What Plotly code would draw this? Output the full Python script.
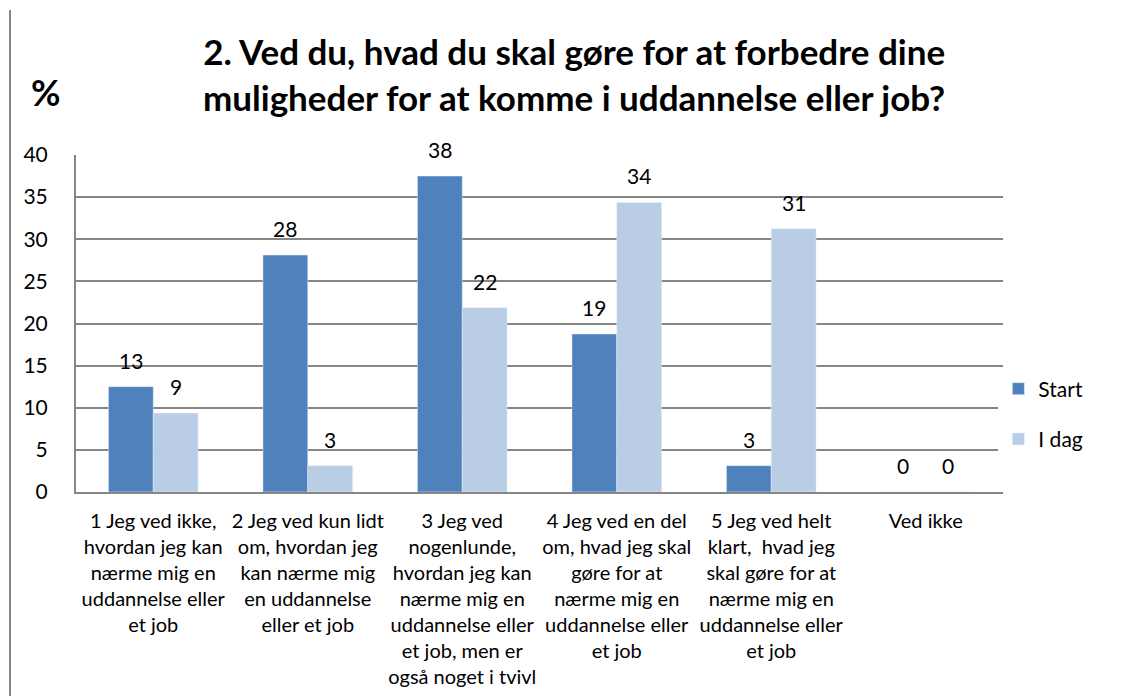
import plotly.graph_objects as go

categories = [
    "1 Jeg ved ikke,<br>hvordan jeg kan<br>nærme mig en<br>uddannelse eller<br>et job",
    "2 Jeg ved kun lidt<br>om, hvordan jeg<br>kan nærme mig<br>en uddannelse<br>eller et job",
    "3 Jeg ved<br>nogenlunde,<br>hvordan jeg kan<br>nærme mig en<br>uddannelse eller<br>et job, men er<br>også noget i tvivl",
    "4 Jeg ved en del<br>om, hvad jeg skal<br>gøre for at<br>nærme mig en<br>uddannelse eller<br>et job",
    "5 Jeg ved helt<br>klart,  hvad jeg<br>skal gøre for at<br>nærme mig en<br>uddannelse eller<br>et job",
    "Ved ikke",
]
start_values = [12.5, 28.125, 37.5, 18.75, 3.125, 0]
idag_values = [9.375, 3.125, 21.875, 34.375, 31.25, 0]
y_ticks = [0, 5, 10, 15, 20, 25, 30, 35, 40]

FONT = "Lato, 'Open Sans', sans-serif"
BARGAP = 0.42
PLOT_W = 927

fig = go.Figure()
fig.add_trace(go.Bar(
    name="Start", x=categories, y=start_values,
    marker_color="#4F81BD", legendgroup="a",
))
fig.add_trace(go.Bar(
    name="I dag", x=categories, y=idag_values,
    marker_color="#B9CDE5", legendgroup="b",
))

# data labels, placed above each bar through the axis scales
bar_px = PLOT_W / len(categories) * (1 - BARGAP) / 2
for values, shift in ((start_values, -bar_px / 2), (idag_values, bar_px / 2)):
    for cat, v in zip(categories, values):
        fig.add_annotation(
            x=cat, y=v, xref="x", yref="y",
            text=f"{round(v + 1e-9):.0f}",
            showarrow=False, xanchor="center", yanchor="bottom",
            xshift=shift, yshift=12,
            font=dict(size=21, color="#000000", family=FONT),
        )

# page body adds an 8px offset, so margins are reduced by 8 on top/left
fig.update_layout(
    width=1138, height=696,
    margin=dict(l=68, r=143, t=147, b=212),
    paper_bgcolor="white", plot_bgcolor="white",
    barmode="group", bargap=BARGAP, bargroupgap=0,
    font=dict(family=FONT, color="#000000"),
    showlegend=True,
    legend=dict(
        x=0.995, y=(492 - 414) / 337, xanchor="left", yanchor="middle",
        font=dict(size=21, family=FONT),
        tracegroupgap=20, traceorder="grouped",
        itemwidth=30,
    ),
    xaxis=dict(
        showline=True, linecolor="#868686", linewidth=2,
        tickfont=dict(size=20, family=FONT),
        ticks="", showgrid=False,
        tickangle=0, ticklabelstandoff=10,
    ),
    yaxis=dict(
        range=[0, 40], tickvals=y_ticks,
        showgrid=True, gridcolor="#868686", gridwidth=1.5,
        showline=True, linecolor="#868686", linewidth=2,
        tickfont=dict(size=21, family=FONT),
        ticks="", zeroline=False,
        ticklabelstandoff=22,
    ),
)

fig.add_annotation(
    text="<b>2. Ved du, hvad du skal gøre for at forbedre dine<br>muligheder for at komme i uddannelse eller job?</b>",
    xref="paper", yref="paper", x=(574 - 76) / 927, y=(492 - 74) / 337,
    xanchor="center", yanchor="middle", showarrow=False,
    font=dict(size=35, family=FONT, color="#000000"),
)
fig.add_annotation(
    text="<b>%</b>", xref="paper", yref="paper",
    x=(46 - 76) / 927, y=(492 - 92) / 337,
    xanchor="center", yanchor="middle", showarrow=False,
    font=dict(size=36, family=FONT, color="#000000"),
)
fig.add_shape(type="line", xref="paper", yref="paper",
              x0=-66 / 927, x1=-66 / 927, y0=(492 - 10) / 337, y1=(492 - 700) / 337,
              line=dict(color="#868686", width=2))

fig.write_html("out.html")
